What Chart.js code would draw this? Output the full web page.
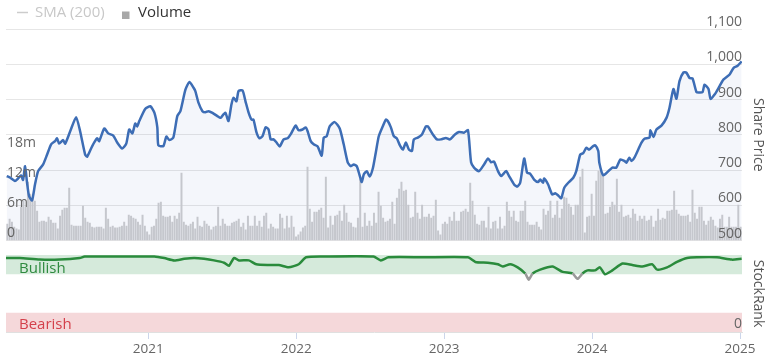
<!DOCTYPE html>
<html><head><meta charset="utf-8">
<script src="https://cdn.jsdelivr.net/npm/chart.js@4.4.1/dist/chart.umd.min.js"></script>
<style>
html,body{margin:0;padding:0;background:#fff;}
#wrap{position:relative;width:776px;height:357px;overflow:hidden;}
#a{position:absolute;left:0;top:0;width:776px;height:250px;}
#b{position:absolute;left:0;top:245px;width:776px;height:112px;}
</style></head><body>
<div id="wrap"><div id="a"><canvas id="ca"></canvas></div><div id="b"><canvas id="cb"></canvas></div></div>
<script>
// ---- data ----
const priceYears = [
2020.043,2020.065,2020.099,2020.119,2020.140,2020.153,2020.167,2020.180,2020.194,2020.214,
2020.234,2020.255,2020.289,2020.316,2020.343,2020.370,2020.383,2020.397,2020.424,2020.438,
2020.472,2020.512,2020.539,2020.573,2020.587,2020.621,2020.654,2020.668,2020.702,2020.729,
2020.763,2020.790,2020.824,2020.851,2020.871,2020.892,2020.912,2020.925,2020.939,2020.980,
2021.014,2021.041,2021.061,2021.068,2021.102,2021.122,2021.142,2021.169,2021.196,2021.217,
2021.251,2021.278,2021.305,2021.318,2021.339,2021.366,2021.386,2021.407,2021.434,2021.467,
2021.488,2021.508,2021.522,2021.542,2021.562,2021.576,2021.596,2021.610,2021.637,2021.657,
2021.678,2021.698,2021.711,2021.732,2021.752,2021.772,2021.793,2021.813,2021.827,2021.847,
2021.867,2021.888,2021.915,2021.942,2021.962,2021.996,2022.016,2022.043,2022.064,2022.077,
2022.098,2022.118,2022.145,2022.172,2022.186,2022.206,2022.226,2022.260,2022.294,2022.321,
2022.348,2022.369,2022.389,2022.409,2022.430,2022.443,2022.457,2022.477,2022.497,2022.518,
2022.538,2022.558,2022.585,2022.606,2022.619,2022.640,2022.660,2022.680,2022.701,2022.721,
2022.741,2022.762,2022.782,2022.795,2022.822,2022.850,2022.877,2022.890,2022.924,2022.951,
2022.978,2023.012,2023.039,2023.073,2023.100,2023.134,2023.161,2023.182,2023.202,2023.236,
2023.270,2023.297,2023.317,2023.337,2023.364,2023.385,2023.419,2023.439,2023.473,2023.493,
2023.514,2023.541,2023.561,2023.581,2023.608,2023.635,2023.649,2023.669,2023.676,2023.703,
2023.730,2023.751,2023.771,2023.791,2023.812,2023.839,2023.873,2023.893,2023.920,2023.940,
2023.961,2023.981,2024.008,2024.022,2024.042,2024.049,2024.076,2024.110,2024.137,2024.164,
2024.191,2024.218,2024.232,2024.252,2024.266,2024.286,2024.313,2024.333,2024.354,2024.388,
2024.394,2024.415,2024.435,2024.469,2024.503,2024.523,2024.550,2024.570,2024.591,2024.618,
2024.638,2024.659,2024.679,2024.706,2024.726,2024.747,2024.760,2024.787,2024.801,2024.828,
2024.862,2024.889,2024.930,2024.957,2024.984,2025.011];
const priceValues = [
683,679,669,676,685,672,711,665,626,614,
659,697,716,744,773,782,790,775,785,775,
810,850,810,744,738,768,790,782,818,804,
798,778,761,775,815,804,832,824,839,874,
881,863,821,770,768,795,785,792,853,867,
928,950,934,924,891,867,864,867,862,853,
848,858,862,839,886,905,895,924,926,895,
863,843,843,806,790,796,821,815,787,787,
778,767,787,790,801,826,813,815,821,810,
782,773,767,741,792,796,824,836,818,773,
722,711,716,711,683,666,688,697,682,705,
750,796,824,843,839,821,796,790,770,758,
778,758,754,787,792,801,824,824,801,787,
787,791,787,801,808,806,813,722,707,697,
716,733,722,724,697,683,697,683,659,653,
664,733,692,690,673,666,673,664,676,659,
631,634,628,620,650,664,678,697,744,748,
763,758,768,770,754,721,685,697,707,707,
730,726,721,735,726,735,759,777,789,792,
813,794,815,826,848,876,930,902,952,977,
976,961,960,921,920,921,942,930,902,914,
938,957,971,990,996,1008];

// volume in millions, evenly spaced bars from volumeFirst to volumeLast
const volumeFirst = 2020.047;
const volumeLast = 2025.004;
const volumeValues = [
3.4,4.4,3.8,2.8,2.4,2.2,6.8,8.0,6.8,11.8,9.4,8.4,8.0,6.0,3.8,4.0,4.0,3.8,4.8,4.2,
3.6,3.6,2.4,5.0,6.2,6.6,6.6,10.6,3.2,3.0,3.0,3.0,3.0,7.0,4.6,3.8,3.6,2.8,2.6,2.8,
2.8,2.8,2.4,6.6,4.4,2.8,3.0,2.6,2.6,2.8,3.0,3.8,3.0,5.2,5.0,4.6,4.4,3.8,3.2,5.2,
3.0,1.8,1.2,2.8,3.0,4.4,7.6,7.8,5.0,4.8,4.8,5.0,3.8,5.0,4.4,5.6,13.6,3.8,3.2,3.0,
3.4,3.8,
2.4,4.8,3.0,2.8,4.0,3.4,3.0,2.2,2.8,3.0,6.8,3.0,4.4,3.4,3.0,3.0,3.6,3.8,4.0,4.4,
2.8,3.6,2.2,5.0,3.0,3.0,5.0,3.0,4.0,2.8,5.0,5.6,2.4,3.4,2.8,2.4,2.4,5.4,4.6,2.4,
5.0,2.6,5.0,2.8,0.8,1.2,1.8,2.6,3.0,14.8,6.4,3.8,5.8,5.8,6.2,6.6,4.6,12.8,2.6,5.0,
3.2,5.0,5.2,6.0,4.0,7.2,5.6,3.8,3.6,2.8,2.6,4.6,12.4,2.8,5.6,3.0,4.0,3.0,5.6,3.6,
9.8,
7.0,4.6,3.8,4.0,4.4,7.8,3.4,8.6,10.4,11.8,10.0,10.2,7.2,4.6,4.8,9.8,5.6,4.4,7.2,4.8,
4.8,5.4,4.6,5.0,8.2,2.0,1.2,3.4,3.8,3.4,4.8,4.0,5.8,4.0,4.0,5.8,6.0,6.4,5.8,11.6,
8.0,5.2,3.4,3.2,4.0,4.0,2.6,6.8,2.4,3.8,4.0,2.4,4.8,2.4,3.0,7.8,6.0,4.8,6.0,4.0,
3.8,6.0,6.0,8.0,3.8,3.2,3.2,3.2,3.8,2.8,2.2,6.4,5.2,6.0,8.0,4.6,5.2,8.0,4.6,6.4,
8.8,
8.6,7.4,6.8,5.2,7.2,7.2,12.8,14.4,1.6,4.8,5.0,9.4,5.0,12.0,14.0,14.0,13.2,5.4,5.6,6.8,
7.8,7.2,12.4,5.8,7.2,4.8,5.0,5.2,4.6,6.4,5.4,4.0,5.0,4.4,5.0,4.0,4.2,5.0,2.8,4.0,
6.4,4.2,4.6,4.4,6.0,6.0,6.2,10.0,6.2,5.4,5.0,5.0,5.0,5.2,3.8,10.2,5.6,4.4,6.8,6.8,
4.0,3.2,4.0,4.8,4.2,3.0,2.6,4.4,5.2,2.8,2.8,4.8,2.8,2.8,2.8,7.2,2.8];

const rankYears = [2020.038,2020.132,2020.266,2020.401,2020.536,2020.570,2020.839,
2021.041,2021.108,2021.175,2021.243,2021.310,2021.377,2021.444,2021.512,2021.545,2021.579,2021.613,2021.680,2021.730,2021.815,2021.882,2021.949,
2022.017,2022.067,2022.185,2022.522,2022.572,2022.623,2022.858,
2023.161,2023.211,2023.295,2023.363,2023.396,2023.447,2023.497,2023.548,2023.572,2023.598,2023.649,2023.733,2023.801,2023.868,2023.902,2023.935,2023.969,
2024.019,2024.053,2024.087,2024.137,2024.205,2024.272,2024.339,2024.406,2024.440,2024.507,2024.574,2024.642,2024.709,2024.844,2024.945,2025.011];
const rankValues = [96,96,94,94,96,98,98,
98,96,93,95,96,95,93,90,86,96,93,93,88,87,87,84,
88,97,98,98,93,97,97,
97,91,90,88,85,88,84,76,68,76,81,85,78,76,69,76,80,
80,84,75,80,89,87,85,88,81,84,91,96,97,97,94,95];

const bullishBand = [75, 100];
const bearishBand = [0, 25];
const volumeTicks = [0, 6, 12, 18];
const xMin = 2020.038, xMax = 2025.0135;

// ---- build points ----
const nP = Math.min(priceYears.length, priceValues.length);
const pricePts = [];
for (let i = 0; i < nP; i++) pricePts.push({x: priceYears[i], y: priceValues[i]});
const volPts = volumeValues.map((v, i) => ({x: volumeFirst + i * (volumeLast - volumeFirst) / (volumeValues.length - 1), y: v}));
const nR = Math.min(rankYears.length, rankValues.length);
const rankPts = [];
for (let i = 0; i < nR; i++) rankPts.push({x: rankYears[i], y: rankValues[i]});

Chart.defaults.font.family = "'Open Sans', sans-serif";
Chart.defaults.color = '#666666';

const legendPlugin = {
  id: 'customLegend',
  afterDraw(chart) {
    const ctx = chart.ctx;
    ctx.save();
    ctx.font = "15px 'Open Sans', sans-serif";
    ctx.textBaseline = 'middle';
    ctx.textAlign = 'left';
    ctx.strokeStyle = '#cccccc';
    ctx.lineWidth = 1.5;
    ctx.beginPath(); ctx.moveTo(17, 12.5); ctx.lineTo(28, 12.5); ctx.stroke();
    ctx.fillStyle = '#c8c8c8';
    ctx.fillText('SMA (200)', 35, 13);
    ctx.fillStyle = '#a8a8a8';
    ctx.fillRect(122, 11.5, 7.5, 7.5);
    ctx.fillStyle = '#333333';
    ctx.fillText('Volume', 138, 13);
    ctx.restore();
  }
};

new Chart(document.getElementById('ca'), {
  type: 'bar',
  data: {
    datasets: [
      {type: 'line', label: 'Share Price', data: pricePts, yAxisID: 'yP', xAxisID: 'x',
       borderColor: '#3d6db5', borderWidth: 2.5, pointRadius: 0, tension: 0.2,
       fill: 'start', backgroundColor: 'rgba(70,100,190,0.06)', order: 0},
      {type: 'bar', label: 'Volume', data: volPts, yAxisID: 'yV', xAxisID: 'x',
       backgroundColor: '#c5c7cd', barPercentage: 0.86, categoryPercentage: 1, order: 1}
    ]
  },
  options: {
    responsive: true, maintainAspectRatio: false, animation: false,
    layout: {padding: {top: 29, bottom: 9, left: 0, right: 0}},
    plugins: {legend: {display: false}, tooltip: {enabled: false}, filler: {drawTime: 'beforeDatasetsDraw'}},
    scales: {
      x: {type: 'linear', min: xMin, max: xMax, offset: false, display: false},
      yV: {position: 'left', min: 0, max: 42.4,
           afterFit: s => { s.width = 6; },
           afterBuildTicks: s => { s.ticks = volumeTicks.map(v => ({value: v})); },
           grid: {display: false}, border: {display: false},
           ticks: {z: 2, mirror: true, padding: 1, labelOffset: -8, color: '#666666', font: {size: 14},
                   callback: v => v === 0 ? '0' : v + 'm'}},
      yP: {position: 'right', min: 500, max: 1100,
           afterFit: s => { s.width = 34; },
           grid: {color: '#e6e6e6', drawTicks: false}, border: {display: false},
           ticks: {z: 2, mirror: true, padding: 0, stepSize: 100, labelOffset: -7, color: '#666666', font: {size: 14}},
           title: {display: true, text: 'Share Price', color: '#555555', font: {size: 14}, padding: {top: 10, bottom: 0}}}
    }
  },
  plugins: [legendPlugin]
});

const bandsPlugin = {
  id: 'bands',
  beforeDatasetsDraw(chart) {
    const {ctx, chartArea: a, scales: {y}} = chart;
    ctx.save();
    const yb1 = y.getPixelForValue(bullishBand[1]), yb0 = y.getPixelForValue(bullishBand[0]);
    const yr1 = y.getPixelForValue(bearishBand[1]), yr0 = y.getPixelForValue(bearishBand[0]);
    ctx.fillStyle = '#d5eadb';
    ctx.fillRect(a.left, yb1, a.right - a.left, yb0 - yb1);
    ctx.fillStyle = '#f5d8da';
    ctx.fillRect(a.left, yr1, a.right - a.left, yr0 - yr1);
    ctx.font = "15px 'Open Sans', sans-serif";
    ctx.textBaseline = 'alphabetic';
    ctx.textAlign = 'left';
    ctx.fillStyle = '#2f8a3f';
    ctx.fillText('Bullish', a.left + 13, yb0 - 1);
    ctx.fillStyle = '#d4404b';
    ctx.fillText('Bearish', a.left + 13, yr0 - 3);
    ctx.restore();
  }
};

new Chart(document.getElementById('cb'), {
  type: 'line',
  data: {
    datasets: [{label: 'StockRank', data: rankPts, borderColor: '#2a8b3c', borderWidth: 2.5,
      pointRadius: 0, tension: 0.2, fill: false,
      segment: {borderColor: c => (c.p0.parsed.y < bullishBand[0] || c.p1.parsed.y < bullishBand[0]) ? '#9a9a9a' : undefined}}]
  },
  options: {
    responsive: true, maintainAspectRatio: false, animation: false,
    layout: {padding: {top: 10, bottom: 0, left: 6, right: 0}},
    plugins: {legend: {display: false}, tooltip: {enabled: false}},
    scales: {
      x: {type: 'linear', min: xMin, max: xMax, offset: false,
          afterFit: s => { s.height = 25; },
          grid: {drawOnChartArea: false, tickLength: 7, color: '#ccd6eb'},
          border: {display: true, color: '#e0e0e0'},
          ticks: {stepSize: 1, includeBounds: false, padding: 2, color: '#666666', font: {size: 13.5},
                  maxRotation: 0, autoSkip: false, callback: v => String(v)}},
      y: {position: 'right', min: 0, max: 100,
          afterFit: s => { s.width = 34; },
          grid: {display: false}, border: {display: false},
          ticks: {z: 2, mirror: true, padding: 0, stepSize: 25, labelOffset: -8, color: '#666666', font: {size: 14},
                  callback: v => v === 0 ? '0' : ''},
          title: {display: true, text: 'StockRank', color: '#555555', font: {size: 14}, padding: {top: 10, bottom: 0}}}
    }
  },
  plugins: [bandsPlugin]
});
</script>
</body></html>
